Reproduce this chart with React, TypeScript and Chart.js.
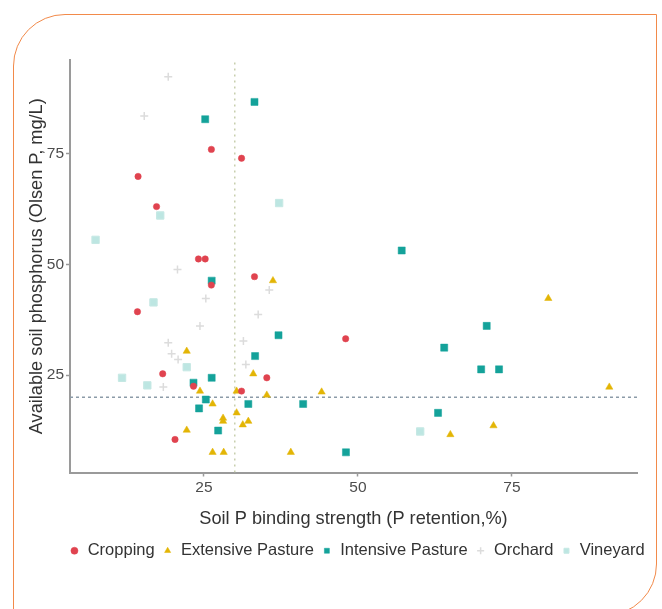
import React, { useEffect, useRef } from "react";
import { Chart, registerables } from "chart.js";

Chart.register(...registerables);

const seriesNames = ["Cropping", "Extensive Pasture", "Intensive Pasture", "Orchard", "Vineyard"];

const croppingX = [14.3, 17.3, 26.2, 31.1, 24.1, 25.2, 26.2, 33.2, 14.2, 18.3, 23.3, 20.3, 31.1, 35.2, 48];
const croppingY = [69.8, 63, 75.9, 73.9, 51.2, 51.2, 45.3, 47.2, 39.3, 25.3, 22.5, 10.5, 21.4, 24.4, 33.2];

const extensiveX = [22.2, 24.35, 26.4, 28.1, 28.1, 30.3, 31.3, 32.2, 22.2, 26.4, 28.2, 30.3, 33, 36.2, 35.2, 44.1, 39.1, 80.9, 90.8, 72, 65];
const extensiveY = [30.4, 21.4, 18.5, 15.3, 14.6, 16.5, 13.8, 14.6, 12.6, 7.6, 7.6, 21.4, 25.3, 46.3, 20.5, 21.2, 7.6, 42.3, 22.3, 13.6, 11.6];

const intensiveX = [33.2, 25.2, 26.25, 23.3, 26.25, 25.3, 24.2, 27.3, 32.2, 33.3, 37.1, 41.1, 48.05, 57.1, 70.9, 64, 70, 72.9, 63];
const intensiveY = [86.6, 82.7, 46.3, 23.3, 24.4, 19.5, 17.5, 12.5, 18.5, 29.3, 34, 18.5, 7.6, 53.1, 36.1, 31.2, 26.3, 26.3, 16.5];

const orchardX = [19.2, 15.3, 20.7, 25.3, 24.35, 19.2, 19.75, 20.8, 18.4, 31.4, 31.8, 33.8, 35.6];
const orchardY = [92.3, 83.4, 48.8, 42.3, 36.1, 32.3, 29.8, 28.5, 22.3, 32.7, 27.4, 38.7, 44.2];

const vineyardX = [17.9, 7.4, 37.2, 16.8, 22.2, 11.7, 15.8, 60.1];
const vineyardY = [61, 55.5, 63.8, 41.4, 26.8, 24.4, 22.7, 12.3];

const xBounds = [3.25, 95.3];
const yBounds = [3.05, 96.05];
const xTicks = [25, 50, 75];
const yTicks = [25, 50, 75];
const refX = 30;
const refY = 20;

const xTitle = "Soil P binding strength (P retention,%)";
const yTitle = "Available soil phosphorus (Olsen P, mg/L)";

const FONT = "'Liberation Sans', Arial, Helvetica, sans-serif";

const toPts = (xs: number[], ys: number[]) => xs.map((x, i) => ({ x, y: ys[i] }));

export default function App() {
  const ref = useRef<HTMLCanvasElement | null>(null);

  useEffect(() => {
    if (!ref.current) return;
    const legendShift = {
      id: "legendShift",
      afterLayout(chart: any) {
        const lg = chart.legend;
        if (!lg) return;
        const d = 357 - (lg.left + lg.right) / 2;
        lg.left += d;
        lg.right += d;
      },
    };

    const chart = new Chart(ref.current, {
      type: "scatter",
      data: {
        datasets: [
          {
            label: seriesNames[0],
            data: toPts(croppingX, croppingY),
            pointStyle: "circle",
            pointRadius: 3.2,
            backgroundColor: "#e0434f",
            borderColor: "#e0434f",
            borderWidth: 0.5,
          },
          {
            label: seriesNames[1],
            data: toPts(extensiveX, extensiveY),
            pointStyle: "triangle",
            pointRadius: 4.2,
            backgroundColor: "#e3b505",
            borderColor: "#e3b505",
            borderWidth: 0.5,
          },
          {
            label: seriesNames[2],
            data: toPts(intensiveX, intensiveY),
            pointStyle: "rect",
            pointRadius: 5,
            backgroundColor: "#14a29a",
            borderColor: "#14a29a",
            borderWidth: 0.5,
          },
          {
            label: seriesNames[3],
            data: toPts(orchardX, orchardY),
            pointStyle: "cross",
            pointRadius: 4,
            backgroundColor: "#dcdcdc",
            borderColor: "#dcdcdc",
            borderWidth: 1.5,
          },
          {
            label: seriesNames[4],
            data: toPts(vineyardX, vineyardY),
            pointStyle: "rect",
            pointRadius: 5.2,
            backgroundColor: "rgba(178,226,221,0.85)",
            borderColor: "#c6e8e4",
            borderWidth: 1,
          },
          {
            type: "line",
            label: "refX",
            data: [
              { x: refX, y: yBounds[0] },
              { x: refX, y: yBounds[1] },
            ],
            borderColor: "#c8cfae",
            borderWidth: 1.5,
            borderDash: [2, 4],
            pointRadius: 0,
            showLine: true,
            fill: false,
          } as any,
          {
            type: "line",
            label: "refY",
            data: [
              { x: xBounds[0], y: refY },
              { x: xBounds[1], y: refY },
            ],
            borderColor: "#8c9ba8",
            borderWidth: 1.5,
            borderDash: [3, 3],
            pointRadius: 0,
            showLine: true,
            fill: false,
          } as any,
        ],
      },
      options: {
        animation: false,
        responsive: false,
        maintainAspectRatio: false,
        layout: { padding: { left: 20, right: 25, top: 60, bottom: 40 } },
        plugins: {
          tooltip: { enabled: false },
          legend: {
            position: "bottom",
            align: "center",
            labels: {
              usePointStyle: true,
              boxWidth: 10,
              boxHeight: 5,
              padding: 8,
              color: "#333333",
              font: { family: FONT, size: 16.5 },
              filter: (item: any) => item.text !== "refX" && item.text !== "refY",
            },
          },
        },
        scales: {
          x: {
            type: "linear",
            min: xBounds[0],
            max: xBounds[1],
            afterBuildTicks: (s: any) => {
              s.ticks = xTicks.map((v) => ({ value: v }));
            },
            afterFit: (s: any) => {
              s.height = 62;
            },
            grid: { display: true, drawOnChartArea: false, drawTicks: true, tickLength: 4, tickColor: "#9a9a9a", tickWidth: 1.5 },
            border: { display: true, color: "#9a9a9a", width: 2 },
            ticks: { color: "#4d4d4d", padding: 2, font: { family: FONT, size: 15.5 }, maxRotation: 0 },
            title: {
              display: true,
              text: xTitle,
              color: "#333333",
              font: { family: FONT, size: 18.2 },
              padding: { top: 0, bottom: 5 },
            },
          },
          y: {
            type: "linear",
            min: yBounds[0],
            max: yBounds[1],
            afterBuildTicks: (s: any) => {
              s.ticks = yTicks.map((v) => ({ value: v }));
            },
            afterFit: (s: any) => {
              s.width = 50;
            },
            grid: { display: true, drawOnChartArea: false, drawTicks: true, tickLength: 4, tickColor: "#9a9a9a", tickWidth: 1.5 },
            border: { display: true, color: "#9a9a9a", width: 2 },
            ticks: { color: "#4d4d4d", padding: 2, font: { family: FONT, size: 15.5 } },
            title: {
              display: true,
              text: yTitle,
              color: "#333333",
              font: { family: FONT, size: 18.2 },
              padding: { top: 6, bottom: 0 },
            },
          },
        },
      },
      plugins: [legendShift],
    } as any);

    return () => chart.destroy();
  }, []);

  return (
    <div
      style={{
        position: "fixed",
        left: 0,
        top: 0,
        width: 662,
        height: 609,
        background: "#ffffff",
        overflow: "hidden",
      }}
    >
      <div
        style={{
          position: "absolute",
          left: 13,
          top: 14,
          width: 644,
          height: 602,
          border: "1.5px solid #f28a4a",
          borderRadius: "52px 0 52px 0",
          boxSizing: "border-box",
        }}
      />
      <canvas
        ref={ref}
        width={662}
        height={609}
        style={{ position: "absolute", left: 0, top: 0, width: 662, height: 609 }}
      />
    </div>
  );
}
